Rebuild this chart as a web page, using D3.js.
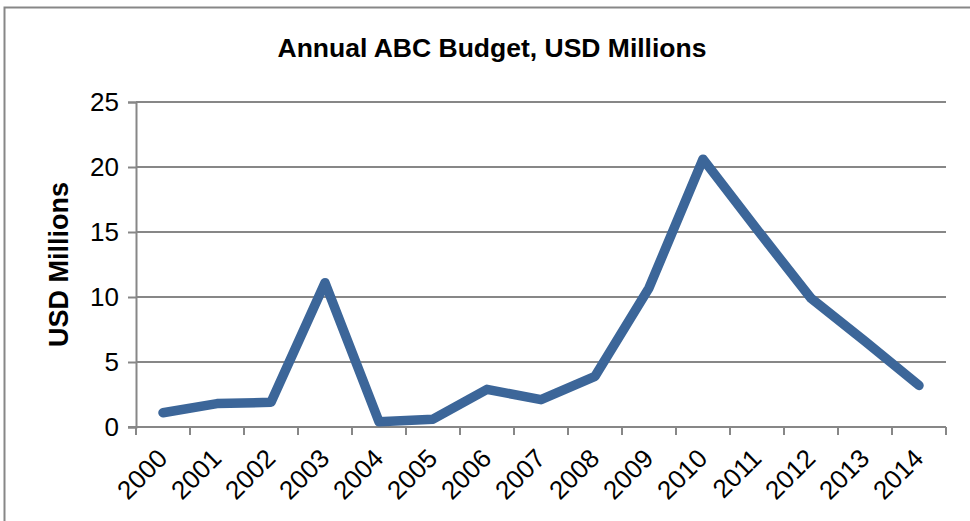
<!DOCTYPE html>
<html>
<head>
<meta charset="utf-8">
<script src="https://cdn.jsdelivr.net/npm/d3@7"></script>
<style>
  html, body { margin: 0; padding: 0; background: #fff; }
  svg { display: block; }
  text { font-family: "Liberation Sans", Arial, sans-serif; fill: #000; }
</style>
</head>
<body>
<svg id="chart" width="970" height="521"></svg>
<script>
// Annual ABC budget, USD millions
const years = ["2000","2001","2002","2003","2004","2005","2006","2007","2008","2009","2010","2011","2012","2013","2014"];
const budget = [1.1, 1.8, 1.9, 11.1, 0.4, 0.6, 2.9, 2.1, 3.9, 10.7, 20.6, 15.2, 9.9, 6.6, 3.2];
const yTicks = [0, 5, 10, 15, 20, 25];

const svg = d3.select("#chart");
const margin = { left: 136, right: 24, top: 102, bottom: 94 };
const W = 970, H = 521;
const gridColor = "#878787";

// outer frame (left and top edges visible)
svg.append("path")
  .attr("d", "M4.5,521 L4.5,7.5 L970,7.5")
  .attr("fill", "none")
  .attr("stroke", gridColor)
  .attr("stroke-width", 2);

const x = d3.scaleBand()
  .domain(years)
  .range([margin.left, W - margin.right])
  .paddingInner(0).paddingOuter(0);

const y = d3.scaleLinear()
  .domain([0, 25])
  .range([H - margin.bottom, margin.top]);

// horizontal gridlines
svg.append("g")
  .selectAll("line")
  .data(yTicks.filter(d => d > 0))
  .join("line")
  .attr("x1", margin.left)
  .attr("x2", W - margin.right)
  .attr("y1", d => y(d))
  .attr("y2", d => y(d))
  .attr("stroke", gridColor)
  .attr("stroke-width", 2);

// y axis
const yAxis = svg.append("g")
  .attr("transform", `translate(${margin.left},0)`)
  .call(d3.axisLeft(y).tickValues(yTicks).tickSize(8).tickPadding(9).tickFormat(d3.format("d")));
yAxis.select(".domain").attr("stroke", gridColor).attr("stroke-width", 2);
yAxis.selectAll(".tick line").attr("stroke", gridColor).attr("stroke-width", 2);
yAxis.selectAll(".tick text")
  .attr("font-size", 26)
  .attr("font-family", "Liberation Sans, Arial, sans-serif")
  .attr("fill", "#000");

// x axis with boundary ticks between years
const xAxisG = svg.append("g")
  .attr("transform", `translate(0,${y(0)})`);
xAxisG.append("line")
  .attr("x1", margin.left - 8)
  .attr("x2", W - margin.right)
  .attr("stroke", gridColor)
  .attr("stroke-width", 2);
const boundaries = years.map(d => x(d)).concat([x(years[years.length - 1]) + x.bandwidth()]);
xAxisG.selectAll("line.tk")
  .data(boundaries)
  .join("line")
  .attr("class", "tk")
  .attr("x1", d => d).attr("x2", d => d)
  .attr("y1", 0).attr("y2", 8)
  .attr("stroke", gridColor)
  .attr("stroke-width", 2);
xAxisG.selectAll("text")
  .data(years)
  .join("text")
  .attr("transform", d => `translate(${x(d) + x.bandwidth() / 2 + 6},${33}) rotate(-45)`)
  .attr("text-anchor", "end")
  .attr("font-size", 26)
  .text(d => d);

// budget line
const line = d3.line()
  .x((d, i) => x(years[i]) + x.bandwidth() / 2)
  .y(d => y(d));
svg.append("path")
  .datum(budget)
  .attr("d", line)
  .attr("fill", "none")
  .attr("stroke", "#3c6699")
  .attr("stroke-width", 9.5)
  .attr("stroke-linejoin", "round")
  .attr("stroke-linecap", "round");

// title
svg.append("text")
  .attr("x", 492)
  .attr("y", 57)
  .attr("text-anchor", "middle")
  .attr("font-size", 26.5)
  .attr("font-weight", "bold")
  .text("Annual ABC Budget, USD Millions");

// y axis title
svg.append("text")
  .attr("transform", `translate(68,${(y(0) + y(25)) / 2}) rotate(-90)`)
  .attr("text-anchor", "middle")
  .attr("font-size", 27)
  .attr("font-weight", "bold")
  .text("USD Millions");
</script>
</body>
</html>
